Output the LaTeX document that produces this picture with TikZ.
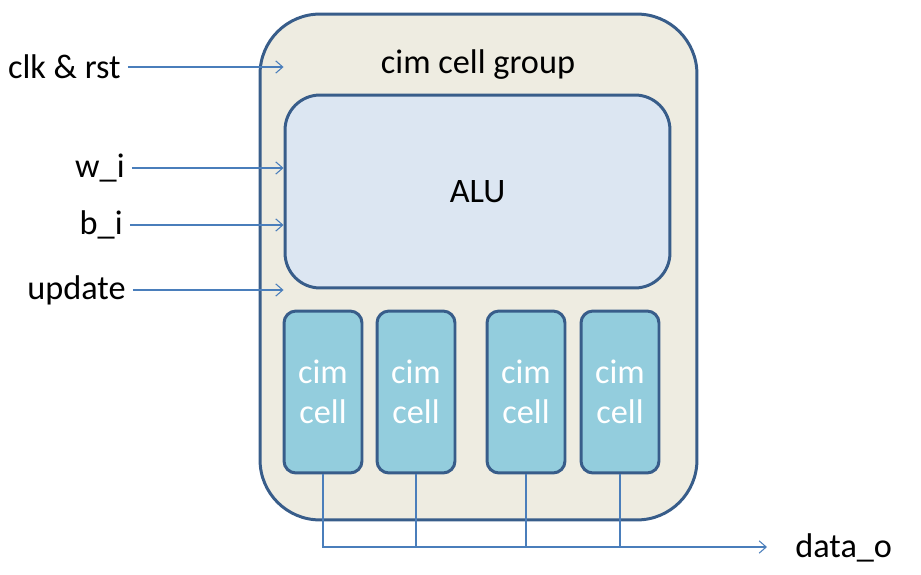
\documentclass[tikz,border=0pt]{standalone}
\usepackage{fontspec}
\setmainfont{Carlito}
\usepackage{tikz}
\usetikzlibrary{arrows.meta}
\definecolor{edgeblue}{HTML}{385D8A}
\definecolor{wireblue}{HTML}{4A7EBB}
\definecolor{groupfill}{HTML}{EEECE1}
\definecolor{alufill}{HTML}{DCE6F2}
\definecolor{cellfill}{HTML}{93CDDD}
\tikzset{
	blockbox/.style={draw=edgeblue, line width=1.7pt, inner sep=0pt},
	cimcell/.style={blockbox, fill=cellfill, minimum width=1.56cm, minimum height=3.24cm, rounded corners=0.24cm, text=white, align=center},
	wire/.style={draw=wireblue, line width=0.6pt},
	sig/.style={wire, -{Straight Barb[length=4pt,width=7pt]}},
	portlabel/.style={anchor=east, inner sep=0pt}
}

\begin{document}
\begin{tikzpicture}[x=0.02cm, y=-0.02cm, font=\fontsize{19.5}{23}\selectfont]
		%%%%% START %%%%%
		\useasboundingbox (0, 0) rectangle (921, 575);
		
		\node[blockbox, fill=groupfill, minimum width=8.74cm, minimum height=10.12cm, rounded corners=1.2cm] (grp) at (478.5, 267) {};
		\node (grplabel) at (478, 65) {cim cell group};
		
		\node[blockbox, fill=alufill, minimum width=7.7cm, minimum height=3.86cm, rounded corners=0.7cm] (alu) at (477.5, 191.5) {ALU};
		
		\node[cimcell] (cell1) at (323, 392) {cim\\cell};
		\node[cimcell] (cell2) at (416, 392) {cim\\cell};
		\node[cimcell] (cell3) at (526, 392) {cim\\cell};
		\node[cimcell] (cell4) at (620, 392) {cim\\cell};
		
		%%%%% INPUTS %%%%%
		\node[portlabel] (clk) at (121, 67) {clk \& rst};
		\node[portlabel] (wi) at (125, 168) {w\_i};
		\node[portlabel] (bi) at (123, 225) {b\_i};
		\node[portlabel] (upd) at (126, 290) {update};
		
		\foreach \port in {clk, wi, bi, upd}
			\draw[sig] ([xshift=0.14cm]\port.east) -- (\port -| alu.west);
		
		%%%%% OUTPUT %%%%%
		\node[anchor=west, inner sep=0pt] (dout) at (795, 548) {data\_o};
		\coordinate (busend) at (767, 547);
		
		\draw[sig] (cell1.south) |- (busend);
		\foreach \c in {cell2, cell3, cell4}
			\draw[wire] (\c.south) -- (\c.south |- busend);
		
		%%%%% END %%%%%
	\end{tikzpicture}
\end{document}
